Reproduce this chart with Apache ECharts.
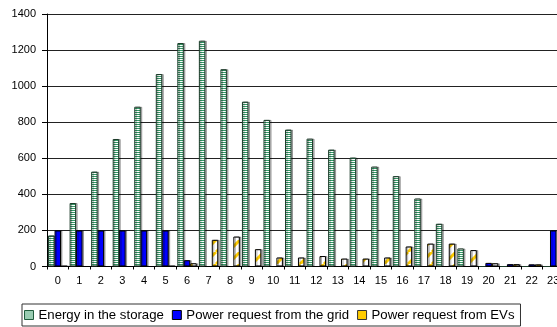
<!DOCTYPE html>
<html><head><meta charset="utf-8">
<script src="https://cdn.jsdelivr.net/npm/echarts@6/dist/echarts.min.js"></script>
<style>html,body{margin:0;padding:0;background:#fff}#c{width:557px;height:327px}</style>
</head><body><div id="c"></div>
<script>
const hours = ['0','1','2','3','4','5','6','7','8','9','10','11','12','13','14','15','16','17','18','19','20','21','22','23'];
const energyStorage = [172, 352, 526, 707, 886, 1067, 1239, 1252, 1094, 914, 813, 759, 709, 648, 604, 554, 501, 377, 237, 100, 0, 0, 0, 0];
const gridRequest = [200, 200, 200, 200, 200, 200, 35, 0, 0, 0, 0, 0, 0, 0, 0, 0, 0, 0, 0, 0, 20, 13, 12, 200];
const evRequest = [3, 0, 0, 0, 0, 3, 18, 148, 166, 96, 50, 50, 58, 44, 44, 50, 111, 127, 127, 91, 18, 13, 12, 3];
const seriesNames = ['Energy in the storage', 'Power request from the grid', 'Power request from EVs'];

function stripePattern() {
  const c = document.createElement('canvas');
  c.width = 4; c.height = 2;
  const g = c.getContext('2d');
  g.fillStyle = '#ffffff'; g.fillRect(0, 0, 4, 2);
  g.fillStyle = '#339966'; g.fillRect(0, 0, 4, 1);
  return c;
}
function diagPattern() {
  const p = 12;
  const c = document.createElement('canvas');
  c.width = p; c.height = p;
  const g = c.getContext('2d');
  g.fillStyle = '#ffffff'; g.fillRect(0, 0, p, p);
  g.strokeStyle = '#FFCC00'; g.lineWidth = 3;
  for (let k = -1; k <= 1; k++) {
    g.beginPath(); g.moveTo(k * p, p); g.lineTo(k * p + p, 0); g.stroke();
  }
  return c;
}

const chart = echarts.init(document.getElementById('c'), null, {renderer: 'canvas'});
const shadow = {shadowColor: 'rgba(0,0,0,0.3)', shadowOffsetX: 1.5, shadowOffsetY: 0, shadowBlur: 0};
chart.setOption({
  backgroundColor: '#ffffff',
  animation: false,
  textStyle: {fontFamily: 'Liberation Sans, Arial, sans-serif'},
  grid: {left: 47, top: 14, height: 252.5, width: 517, containLabel: false, outerBoundsMode: 'none'},
  legend: {
    left: 22, top: 304,
    padding: [4, 6, 4, 2],
    borderColor: '#333', borderWidth: 1,
    itemWidth: 9, itemHeight: 9, itemGap: 8,
    textStyle: {fontSize: 13.2, color: '#000', fontFamily: 'Liberation Sans, Arial, sans-serif', lineHeight: 14},
    data: [
      {name: seriesNames[0], icon: 'rect', itemStyle: {color: {image: stripePattern(), repeat: 'repeat'}, borderColor: '#1e5c3c', borderWidth: 1}},
      {name: seriesNames[1], icon: 'rect', itemStyle: {color: '#0000FF', borderColor: '#000', borderWidth: 1}},
      {name: seriesNames[2], icon: 'rect', itemStyle: {color: '#FFCC00', borderColor: '#333', borderWidth: 1}}
    ]
  },
  xAxis: {
    type: 'category', data: hours,
    axisLine: {lineStyle: {color: '#000', width: 1}},
    axisTick: {show: true, length: 3, lineStyle: {color: '#000'}},
    axisLabel: {color: '#000', fontSize: 11, margin: 9, interval: 0},
    splitLine: {show: false}
  },
  yAxis: {
    type: 'value', min: 0, max: 1400, interval: 200,
    axisLine: {show: true, lineStyle: {color: '#000', width: 1}},
    axisTick: {show: true, length: 5, lineStyle: {color: '#000'}},
    axisLabel: {color: '#000', fontSize: 11, margin: 11, formatter: v => String(v)},
    splitLine: {show: true, lineStyle: {color: '#222', width: 1}}
  },
  series: [
    {name: seriesNames[0], type: 'bar', data: energyStorage, barGap: '0%', barCategoryGap: '10%',
     itemStyle: Object.assign({color: {image: stripePattern(), repeat: 'repeat'}, borderColor: '#1a3a28', borderWidth: 1}, shadow)},
    {name: seriesNames[1], type: 'bar', data: gridRequest, barGap: '0%', barCategoryGap: '10%',
     itemStyle: Object.assign({color: '#0000FF', borderColor: '#000', borderWidth: 1}, shadow)},
    {name: seriesNames[2], type: 'bar', data: evRequest, barGap: '0%', barCategoryGap: '10%',
     itemStyle: Object.assign({color: {image: diagPattern(), repeat: 'repeat'}, borderColor: '#000', borderWidth: 1}, shadow)}
  ]
});
</script></body></html>
